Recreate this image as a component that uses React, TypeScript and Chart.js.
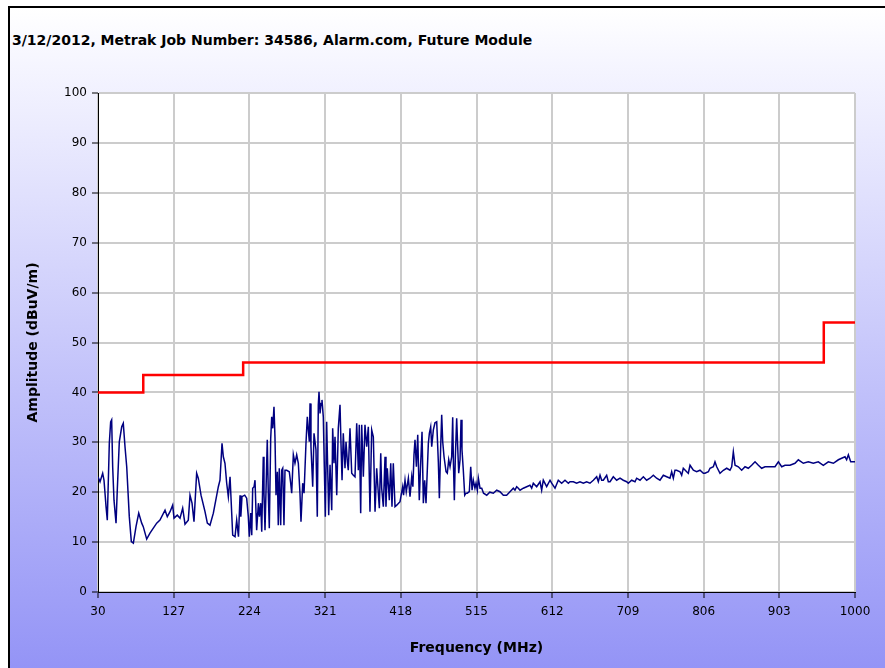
import React, { useEffect, useRef } from "react";
import { Chart, registerables } from "chart.js";

Chart.register(...registerables);

const chartTitle = "3/12/2012, Metrak Job Number: 34586, Alarm.com, Future Module";
const xAxisTitle = "Frequency (MHz)";
const yAxisTitle = "Amplitude (dBuV/m)";

const xTickValues = [30, 127, 224, 321, 418, 515, 612, 709, 806, 903, 1000];

const limitFreq = [30, 88, 216, 960, 1000];
const limitAmp = [40, 43.5, 46, 54, 54];

const measFreq = [
  30, 32.6, 36, 37.7, 40.3, 41.9, 44.5, 46.2, 47.5, 48.8, 50.5, 53.1, 54.7, 57.3, 60.4, 62.4, 64.6, 66.8, 70.1, 72.7,
  75.3, 78.7, 82.2, 86, 88, 92.4, 96.6, 100.9, 105.2, 109.4, 115.9, 118.8, 122.3, 125.7, 127.4, 131.6, 135.1, 138.5, 141.5, 145.7,
  147.9, 150.5, 153, 156.4, 158.5, 162, 167.1, 170.1, 173.5, 177.8, 184.2, 186.3, 188.9, 190.6, 192.7, 194.9, 197, 199.2, 202.6, 205.6,
  207.7, 210, 212, 213, 214.5, 218, 220.5, 222.6, 223.9, 225.7, 227, 228.2, 230, 231.2, 232.5, 233.3, 235.5, 236.8, 238.5, 239.8,
  241.8, 242.7, 244, 245.3, 246.9, 248.2, 249.5, 251.3, 252.6, 253.9, 255.5, 256.8, 258.1, 259.8, 261, 262.3, 264.1, 265.4, 266.7, 268.3,
  269.6, 271.8, 275.1, 276.9, 278.2, 280.3, 282.4, 284.6, 286.7, 288.8, 290.1, 292.3, 294, 296.5, 298.2, 299.5, 300.8, 301.7, 302.9, 304.2,
  305.1, 306.8, 309.3, 311, 312.3, 313.2, 314.5, 315.8, 317, 318.7, 320, 321.3, 323, 324.3, 325.6, 327.3, 329.5, 330.7, 332.4, 333.7,
  335.9, 337.9, 340.1, 341.4, 342.7, 344.3, 346.5, 347.8, 349.5, 350.7, 352.9, 355.1, 357.2, 359.3, 361.5, 363.6, 364.8, 366.6, 367.9, 370,
  372.1, 374.3, 376.4, 378.5, 380.7, 382.8, 385, 387.1, 389.2, 390.5, 392.3, 393.5, 395.6, 397.8, 399, 400.7, 403.3, 405.1, 406.7, 408.4,
  410.6, 412.8, 417, 420.4, 421.5, 423.4, 425, 427.7, 429.8, 432, 433.5, 434.9, 436.2, 438, 439.7, 441.7, 443.2, 445.2, 446.9, 448.6,
  450.3, 453.3, 454.6, 456.3, 457.6, 459.7, 461.8, 464, 466.1, 467.4, 469.1, 470.4, 471.7, 473.4, 476, 477.6, 479.4, 481.1, 483.2, 484.5,
  485.4, 486.6, 487.9, 489.6, 490.9, 492.2, 493.9, 495.2, 496.4, 498.1, 499.9, 501.6, 503.2, 505.8, 507.6, 509.3, 510.9, 513, 514.4, 516.1,
  517.4, 519.5, 521.7, 524, 528.1, 532, 536.6, 540.9, 545.1, 549.4, 553.6, 557.9, 562.2, 564.3, 566.5, 568.6, 570.8, 575, 579.3, 583.5,
  585.7, 587.8, 592.1, 596.4, 598.5, 600.6, 604.9, 609.2, 611.3, 615.6, 619.8, 624.1, 628.4, 632.7, 634.8, 639.1, 643.3, 647.6, 651.9, 656.1,
  660.4, 664.7, 669, 671.1, 673.3, 675.4, 677.5, 681.8, 683.9, 686.1, 690.3, 694.6, 698.9, 703.1, 707.4, 709.5, 713.8, 718.1, 720.2, 724.5,
  728.8, 733, 737.3, 741.6, 745.8, 750.1, 754.4, 758.7, 762.9, 765.1, 767.2, 769.3, 771.5, 775.8, 777.9, 780, 784.3, 786.4, 788.6, 792.9,
  797.1, 801.4, 805.7, 807.8, 812.1, 814.2, 818.5, 820.6, 822.8, 827, 831.3, 835.6, 839.8, 842, 844.1, 846.3, 850.5, 854.8, 859.1, 863.3,
  867.6, 871.9, 876.2, 880.4, 884.7, 891.1, 897.5, 901.8, 906.1, 910.3, 916.7, 923.1, 927.4, 933.8, 940.2, 946.6, 953, 959.4, 965.8, 972.3,
  978.7, 982.9, 987.2, 989.3, 991.5, 994.5, 997.9, 1000,
];

const measAmp = [
  23.1, 22.1, 23.8, 22.4, 17.1, 14.4, 29.8, 34.1, 34.5, 25.1, 18.4, 13.8, 20.4, 30.1, 33.1, 33.8, 29.1, 25.1, 15.1, 10.1,
  9.8, 13.1, 15.8, 13.8, 13.1, 10.6, 11.8, 12.8, 13.8, 14.4, 16.4, 15.1, 16.1, 17.4, 14.8, 15.4, 14.8, 16.8, 13.6, 14.4,
  19.4, 17.8, 14.1, 23.8, 22.8, 19.4, 16.1, 13.8, 13.4, 15.8, 21.1, 22.4, 29.8, 27.1, 25.8, 21.8, 19.1, 23.1, 11.4, 11.1,
  14.4, 11.1, 19.4, 15.1, 19.1, 19.4, 18.8, 15.1, 11.1, 15.8, 11.4, 20.8, 21.1, 22.4, 15.8, 12.4, 17.8, 15.1, 17.8, 12.1,
  27.1, 19.8, 12.4, 20.4, 30.5, 19.8, 12.8, 30.8, 35.1, 32.8, 37.1, 30.8, 19.4, 24.1, 13.4, 24.8, 13.4, 24.4, 24.8, 13.4,
  24.4, 24.4, 24.1, 21.8, 19.8, 27.5, 25.8, 27.5, 25.8, 19.8, 14.1, 21.8, 19.8, 29.8, 35.1, 32.5, 30.1, 37.8, 29.1, 24.4,
  21.1, 31.8, 28.5, 15.1, 37.5, 40.1, 35.8, 37.8, 38.5, 35.1, 25.1, 15.1, 34.1, 25.1, 15.4, 25.5, 16.4, 32.8, 25.8, 31.1,
  19.4, 32.8, 37.5, 29.5, 22.4, 31.8, 24.8, 30.1, 26.1, 24.4, 32.8, 23.8, 23.4, 23.1, 33.8, 24.4, 33.5, 15.8, 33.5, 23.1,
  33.5, 29.1, 33.1, 16.1, 32.5, 31.1, 16.1, 24.8, 19.8, 16.8, 27.8, 20.8, 17.1, 27.1, 17.1, 24.8, 18.4, 25.8, 17.1, 25.8,
  17.1, 17.4, 18.1, 21.1, 19.4, 22.4, 20.1, 22.8, 19.1, 23.1, 21.1, 27.5, 30.5, 25.1, 31.5, 18.4, 24.8, 32.1, 17.8, 22.4,
  17.8, 29.8, 31.8, 33.1, 29.1, 32.5, 33.9, 34.1, 26.1, 18.8, 29.1, 35.5, 30.1, 27.1, 24.1, 23.8, 26.5, 25.1, 27.1, 35,
  26.1, 18.4, 27.1, 34.8, 29.1, 23.8, 26.5, 34.5, 28.5, 24.4, 19.4, 19.8, 19.8, 20.1, 25.1, 20.4, 22.4, 20.8, 21.8, 20.4,
  22.8, 20.8, 20.8, 19.8, 19.4, 20, 19.8, 20.4, 20.1, 19.4, 19.4, 20.1, 20.8, 20.4, 21.1, 20.8, 20.4, 20.8, 21.1, 21.4,
  20.8, 21.8, 21.1, 22.1, 20.4, 22.4, 21.1, 22.4, 21.8, 20.8, 22.4, 21.8, 22.4, 21.8, 22.1, 22.1, 21.8, 22.1, 21.8, 22.1,
  21.8, 22.4, 23.1, 22.1, 23.4, 22.4, 22.4, 23.4, 22.1, 22.1, 23.1, 22.4, 22.8, 22.4, 22.1, 21.8, 22.4, 22.1, 22.8, 22.4,
  23.1, 22.4, 22.8, 23.4, 22.8, 22.4, 23.4, 23.1, 22.8, 24.1, 22.8, 24.4, 24.4, 24.1, 23.4, 24.8, 24.1, 23.8, 25.4, 24.4,
  24.1, 24.4, 23.8, 23.8, 24.1, 24.8, 25.1, 26.1, 25.1, 23.8, 24.4, 24.8, 24.4, 25.1, 28.1, 25.4, 25.1, 24.4, 25.1, 24.8,
  25.4, 26.1, 25.4, 24.8, 25.1, 25.1, 25.1, 26.1, 25.1, 25.4, 25.4, 25.8, 26.5, 25.8, 26.1, 25.8, 26.1, 25.4, 26.1, 25.8,
  26.5, 26.8, 27.1, 26.5, 27.5, 26.1, 26.1, 26.1,
];

const plotBackground = {
  id: "plotBackground",
  beforeDraw(chart: any) {
    const { ctx, chartArea } = chart;
    if (!chartArea) return;
    ctx.save();
    ctx.fillStyle = "#ffffff";
    ctx.fillRect(chartArea.left, chartArea.top, chartArea.right - chartArea.left, chartArea.bottom - chartArea.top);
    ctx.restore();
  },
};

export default function App() {
  const canvasRef = useRef<HTMLCanvasElement | null>(null);

  useEffect(() => {
    const canvas = canvasRef.current;
    if (!canvas) return;
    const tickFont = { family: '"DejaVu Sans", Verdana, sans-serif', size: 12 };
    const titleFont = { family: '"DejaVu Sans", Verdana, sans-serif', size: 14, weight: "bold" as const };
    const chart = new Chart(canvas, {
      type: "line",
      data: {
        datasets: [
          {
            label: "Limit",
            data: limitFreq.map((f, i) => ({ x: f, y: limitAmp[i] })),
            borderColor: "#ff0000",
            borderWidth: 2.5,
            stepped: "before",
            pointRadius: 0,
            fill: false,
          },
          {
            label: "Measured",
            data: measFreq.map((f, i) => ({ x: f, y: measAmp[i] })),
            borderColor: "#000080",
            borderWidth: 1.5,
            pointRadius: 0,
            tension: 0,
            fill: false,
          },
        ],
      },
      options: {
        responsive: false,
        animation: false,
        layout: { padding: { left: 0, top: 93, right: 30, bottom: 0 } },
        plugins: { legend: { display: false }, tooltip: { enabled: false }, title: { display: false } },
        scales: {
          x: {
            type: "linear",
            min: 30,
            max: 1000,
            afterBuildTicks: (scale: any) => {
              scale.ticks = xTickValues.map((v) => ({ value: v }));
            },
            afterFit: (scale: any) => {
              scale.height = 76;
            },
            grid: { color: "#cccccc", lineWidth: 2, tickColor: "#000", tickWidth: 1, tickLength: 6, drawTicks: true },
            border: { color: "#000", width: 1 },
            ticks: {
              font: tickFont,
              color: "#000",
              padding: 7,
              maxRotation: 0,
              autoSkip: false,
              callback: (v: any) => String(v),
            },
            title: { display: true, text: xAxisTitle, font: titleFont, color: "#000", padding: { top: 0, bottom: 11 } },
          },
          y: {
            type: "linear",
            min: 0,
            max: 100,
            ticks: { stepSize: 10, font: tickFont, color: "#000", padding: 5 },
            afterFit: (scale: any) => {
              scale.width = 98;
            },
            grid: { color: "#cccccc", lineWidth: 2, tickColor: "#000", tickWidth: 1, tickLength: 6, drawTicks: true },
            border: { color: "#000", width: 1 },
            title: { display: true, text: yAxisTitle, font: titleFont, color: "#000", padding: { top: 25, bottom: 0 } },
          },
        },
      },
      plugins: [plotBackground],
    });
    return () => chart.destroy();
  }, []);

  return (
    <div style={{ position: "fixed", left: 0, top: 0, width: 885, height: 668, background: "#fff", overflow: "hidden" }}>
      <div
        style={{
          position: "absolute",
          left: 8,
          top: 6,
          right: 0,
          bottom: 0,
          borderLeft: "2px solid #000",
          borderTop: "2px solid #000",
          background: "linear-gradient(to bottom, #ffffff 0%, #f6f6ff 8%, #9494f6 100%)",
        }}
      />
      <div
        style={{
          position: "absolute",
          left: 12,
          top: 31,
          font: 'bold 14px "DejaVu Sans", Verdana, sans-serif',
          color: "#000",
          whiteSpace: "nowrap",
          lineHeight: "18px",
        }}
      >
        {chartTitle}
      </div>
      <canvas ref={canvasRef} width={885} height={668} style={{ position: "absolute", left: 0, top: 0 }} />
    </div>
  );
}
